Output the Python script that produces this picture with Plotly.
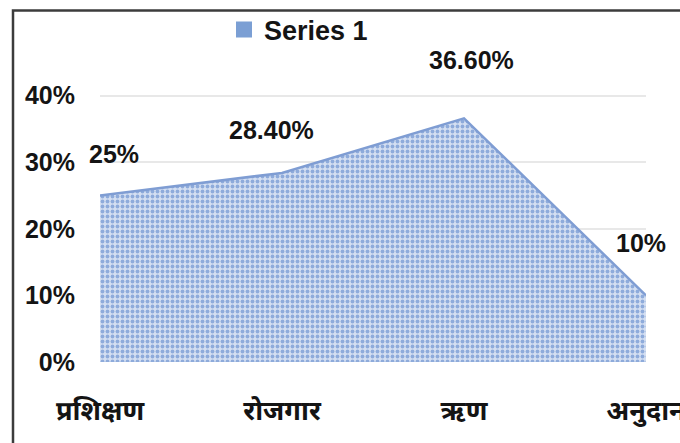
import plotly.graph_objects as go

categories = ["प्रशिक्षण", "रोजगार", "ऋण", "अनुदान"]
values = [0.25, 0.284, 0.366, 0.10]
value_labels = ["25%", "28.40%", "36.60%", "10%"]
series_name = "Series 1"
y_ticks = [0, 0.1, 0.2, 0.3, 0.4]
y_tick_labels = ["0%", "10%", "20%", "30%", "40%"]
y_max = 0.41

# label offsets (px) relative to each point
label_dx = [14, -11, 7, -5]
label_dy = [42, 43, 58, 52]

W, H = 680, 443
B = 81
L, R = 100, 34
ph = round(266 * y_max / 0.4)
T = H - B - ph
pw = W - L - R

FONT = "Liberation Sans, Arial, Noto Sans, sans-serif"
TXT = "#141414"

fig = go.Figure()
fig.add_trace(go.Scatter(
    x=categories, y=values, mode="lines", fill="tozeroy",
    line=dict(color="#7f9dd3", width=2.5),
    fillcolor="#b3c6e7",
    fillpattern=dict(shape=".", fgcolor="#8eabdb", bgcolor="#d4dff2",
                     size=5, solidity=0.45),
    showlegend=False, hoverinfo="skip",
))
# legend entry as a square swatch
fig.add_trace(go.Scatter(
    x=[None], y=[None], mode="markers", name=series_name,
    marker=dict(symbol="square", size=20, color="#7b9fd4"),
))

for c, v, t, dx, dy in zip(categories, values, value_labels, label_dx, label_dy):
    fig.add_annotation(x=c, y=v, text=t, showarrow=False, xshift=dx, yshift=dy,
                       font=dict(family=FONT, size=25, color=TXT, weight="bold"),
                       xanchor="center", yanchor="middle")

fig.add_shape(type="rect", xref="paper", yref="paper",
              x0=(13 - L) / pw, x1=1.5, y0=-1.0, y1=(H - B - 10.5) / ph,
              line=dict(color="#3c3c3c", width=2.5), fillcolor="rgba(0,0,0,0)",
              layer="above")

fig.update_layout(
    template="none",
    width=W, height=H, autosize=False,
    margin=dict(l=L, r=R, t=T, b=B, pad=0, autoexpand=False),
    paper_bgcolor="white", plot_bgcolor="white",
    font=dict(family=FONT, size=25, color=TXT, weight="bold"),
    showlegend=True,
    legend=dict(x=(224 - L) / pw, xanchor="left", y=(H - B - 30) / ph, yanchor="middle",
                font=dict(family=FONT, size=27, color=TXT, weight="bold"),
                bgcolor="rgba(0,0,0,0)", borderwidth=0),
    xaxis=dict(type="category", range=[0, 3], showgrid=False, zeroline=False,
               showline=False, ticks="", ticklabelstandoff=30, automargin=False,
               tickfont=dict(family="Noto Sans Devanagari, Noto Sans, sans-serif", size=27,
                             color=TXT, weight="bold")),
    yaxis=dict(range=[0, y_max], tickvals=y_ticks, ticktext=y_tick_labels,
               showgrid=True, gridcolor="#e8e8e8", gridwidth=2, zeroline=False,
               showline=False, ticks="", ticklabelstandoff=24, automargin=False,
               tickfont=dict(family=FONT, size=25, color=TXT, weight="bold")),
)

fig.write_html(
    "out.html",
    config={"responsive": False, "displayModeBar": False},
    post_script="document.body.style.margin='0';document.body.style.overflow='hidden';",
)
